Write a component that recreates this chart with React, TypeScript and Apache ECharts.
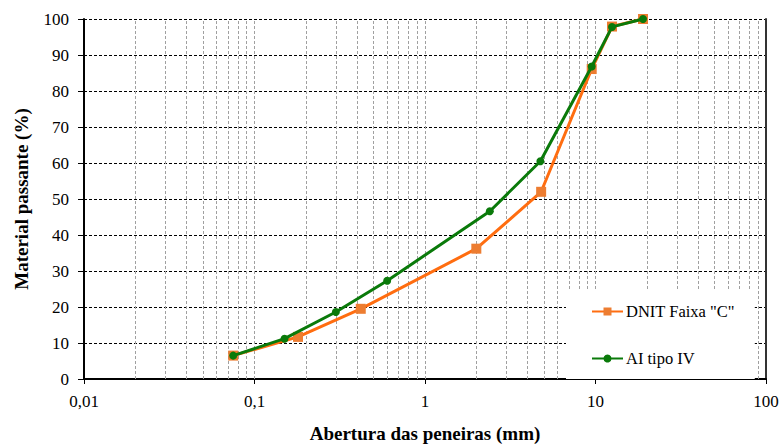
import React, { useEffect, useRef } from "react";
import * as echarts from "echarts";

const dnitSieves = [0.075, 0.18, 0.42, 2.0, 4.8, 9.5, 12.5, 19];
const dnitPassing = [6.5, 11.7, 19.5, 36.2, 52.0, 86.1, 97.9, 100];

const aiSieves = [0.075, 0.15, 0.3, 0.6, 2.4, 4.75, 9.5, 12.5, 19];
const aiPassing = [6.5, 11.2, 18.6, 27.3, 46.6, 60.5, 86.8, 97.8, 100];

const seriesNames = ['DNIT Faixa "C"', "AI tipo IV"];
const xTickLabels: Record<string, string> = { "0.01": "0,01", "0.1": "0,1", "1": "1", "10": "10", "100": "100" };
const gridValues = [
  0.02, 0.03, 0.04, 0.05, 0.06, 0.07, 0.08, 0.09, 0.1,
  0.2, 0.3, 0.4, 0.5, 0.6, 0.7, 0.8, 0.9, 1,
  2, 3, 4, 5, 6, 7, 8, 9, 10,
  20, 30, 40, 50, 60, 70, 80, 90,
];

const FONT = "'Liberation Serif', 'Times New Roman', serif";

export default function App() {
  const ref = useRef<HTMLDivElement>(null);
  useEffect(() => {
    if (!ref.current) return;
    const chart = echarts.init(ref.current, undefined, { renderer: "svg" });
    chart.setOption({
      animation: false,
      backgroundColor: "#ffffff",
      textStyle: { fontFamily: FONT },
      grid: { left: 84, right: 17, top: 19, bottom: 64, containLabel: false },
      legend: {
        orient: "vertical",
        left: 566,
        top: 290,
        width: 195,
        padding: [13, 20, 12, 25],
        backgroundColor: "#ffffff",
        itemWidth: 31,
        itemHeight: 10,
        itemGap: 30,
        textStyle: { fontFamily: FONT, fontSize: 16.5, color: "#000", padding: [0, 0, 0, -2] },
        data: seriesNames,
      },
      xAxis: {
        type: "log",
        logBase: 10,
        min: 0.01,
        max: 100,
        name: "Abertura das peneiras (mm)",
        nameLocation: "middle",
        nameGap: 45,
        nameTextStyle: { fontFamily: FONT, fontSize: 19, fontWeight: "bold", color: "#000" },
        axisLine: { lineStyle: { color: "#000", width: 2 } },
        axisTick: { show: true, length: 5, lineStyle: { color: "#000", width: 1 } },
        axisLabel: {
          fontFamily: FONT,
          fontSize: 17,
          color: "#000",
          margin: 14,
          formatter: (v: number) => xTickLabels[String(v)] ?? String(v),
        },
        splitLine: { show: false },
      },
      yAxis: [
        {
          type: "value",
          min: 0,
          max: 100,
          interval: 10,
          name: "Material passante (%)",
          nameLocation: "middle",
          nameGap: 53,
          nameTextStyle: { fontFamily: FONT, fontSize: 19, fontWeight: "bold", color: "#000" },
          axisLine: { show: true, lineStyle: { color: "#000", width: 2 } },
          axisTick: { show: true, length: 6, lineStyle: { color: "#000", width: 1 } },
          axisLabel: { fontFamily: FONT, fontSize: 17, color: "#000", margin: 15 },
          splitLine: { show: true, lineStyle: { color: "#000", type: [3, 2], width: 1 } },
        },
        {
          type: "value",
          position: "right",
          min: 0,
          max: 100,
          interval: 10,
          axisLine: { show: true, lineStyle: { color: "#333", width: 2 } },
          axisTick: { show: false },
          axisLabel: { show: false },
          splitLine: { show: false },
        },
      ],
      series: [
        {
          name: seriesNames[0],
          type: "line",
          data: dnitSieves.map((x, i) => [x, dnitPassing[i]]),
          symbol: "rect",
          symbolSize: 10,
          lineStyle: { color: "#ff6d10", width: 3 },
          itemStyle: { color: "#ed7d31" },
          z: 3,
          markLine: {
            silent: true,
            symbol: "none",
            label: { show: false },
            lineStyle: { color: "#a0a0a0", type: [3, 2], width: 1 },
            data: gridValues.map((v) => ({ xAxis: v })),
            z: 1,
          },
        },
        {
          name: seriesNames[1],
          type: "line",
          data: aiSieves.map((x, i) => [x, aiPassing[i]]),
          symbol: "circle",
          symbolSize: 8,
          lineStyle: { color: "#0a7a0a", width: 3 },
          itemStyle: { color: "#0a7a0a" },
          z: 4,
        },
      ],
    });
    return () => chart.dispose();
  }, []);
  return (
    <div
      ref={ref}
      style={{ position: "absolute", left: 0, top: 0, width: 783, height: 448, overflow: "hidden" }}
    />
  );
}
